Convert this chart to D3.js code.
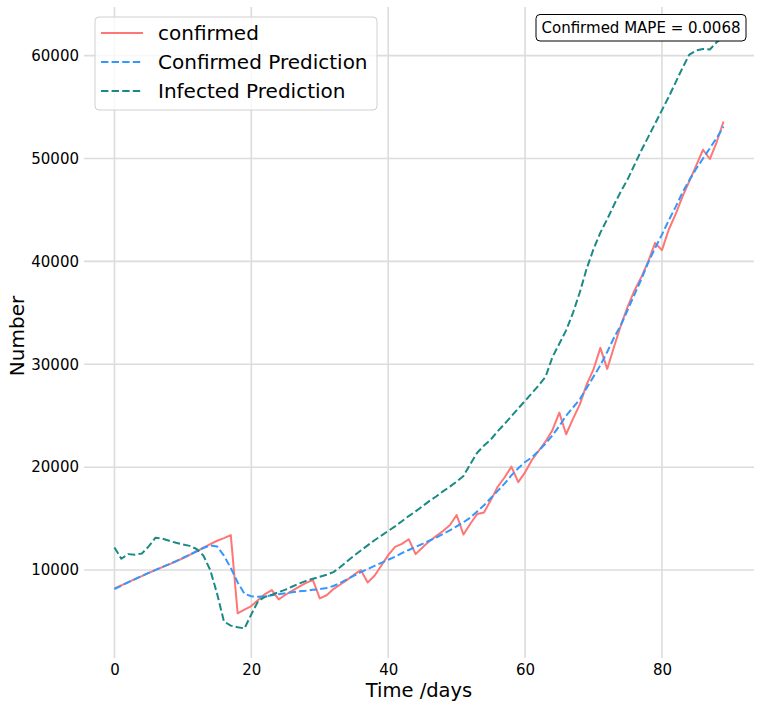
<!DOCTYPE html>
<html>
<head>
<meta charset="utf-8">
<script src="https://cdn.jsdelivr.net/npm/d3@7"></script>
<style>
    body { margin: 0; background: #fff; }
    svg text { font-family: 'DejaVu Sans', sans-serif; fill: #000; }
</style>
</head>
<body>
<svg id="chart" width="761" height="708"></svg>
<script>
// days 0..89
const days = d3.range(0, 90)

const confirmed = [
    8220, 8520, 8820, 9120, 9420, 9720, 10000, 10280, 10560, 10840,
    11150, 11480, 11820, 12170, 12530, 12850, 13100, 13400, 5800, 6150,
    6500, 7100, 7670, 8050, 7150, 7600, 8000, 8400, 8750, 9030,
    7250, 7550, 8150, 8600, 9050, 9550, 10000, 8800, 9450, 10450,
    11450, 12250, 12550, 13000, 11550, 12200, 12800, 13300, 13800, 14350,
    15350, 13450, 14500, 15450, 15600, 16800, 18100, 19000, 20050, 18550,
    19500, 20700, 21600, 22500, 23600, 25300, 23200, 24700, 26100, 28050,
    29500, 31600, 29550, 31700, 33800, 35600, 37200, 38500, 40000, 41800,
    41100, 43100, 44600, 46300, 47800, 49300, 50850, 49950, 51600, 53600
]

const confirmedPrediction = [
    8150, 8480, 8800, 9120, 9430, 9730, 10020, 10300, 10580, 10870,
    11180, 11500, 11830, 12150, 12400, 12300, 11400, 10200, 8800, 7700,
    7450, 7400, 7450, 7550, 7650, 7750, 7850, 7950, 8000, 8080,
    8150, 8250, 8450, 8750, 9100, 9450, 9800, 10100, 10400, 10700,
    11000, 11300, 11650, 11950, 12250, 12550, 12850, 13150, 13500, 13850,
    14250, 14650, 15100, 15700, 16300, 17000, 17700, 18400, 19200, 19900,
    20500, 20950, 21600, 22300, 23100, 24000, 25000, 25800, 26600, 27700,
    28800, 29900, 31200, 32600, 33800, 35300, 36800, 38300, 39900, 41300,
    42600, 44000, 45300, 46700, 47900, 49000, 50000, 51000, 52000, 53100
]

const infectedPrediction = [
    12200, 11100, 11550, 11500, 11600, 12300, 13150, 13050, 12850, 12650,
    12500, 12350, 12050, 11400, 10000, 7700, 5000, 4600, 4450, 4330,
    5700, 7000, 7400, 7600, 7850, 8100, 8400, 8700, 8950, 9150,
    9350, 9550, 9800, 10300, 10850, 11400, 11900, 12400, 12900, 13350,
    13800, 14250, 14750, 15250, 15700, 16200, 16700, 17150, 17650, 18100,
    18600, 19150, 20300, 21400, 22100, 22700, 23500, 24200, 24950, 25700,
    26450, 27200, 27950, 28800, 30700, 32000, 33300, 35000, 37000, 39300,
    41200, 42800, 44100, 45500, 46800, 48000, 49400, 50800, 52100, 53400,
    54700, 56000, 57400, 58800, 60100, 60500, 60650, 60600, 61300, 61850
]

const xTicks = [0, 20, 40, 60, 80]
const yTicks = [10000, 20000, 30000, 40000, 50000, 60000]
const mapeText = 'Confirmed MAPE = 0.0068'

const series = [
    {name: 'confirmed', values: confirmed, color: '#ff7676', dash: null},
    {name: 'Confirmed Prediction', values: confirmedPrediction, color: '#3397ff', dash: '7.4,3.2'},
    {name: 'Infected Prediction', values: infectedPrediction, color: '#1a8a86', dash: '7.4,3.2'}
]

const margin = {left: 84, right: 754, top: 7, bottom: 658}
const svg = d3.select('#chart')

// matplotlib style 5% margins around the data
function padded(extent) {
    const p = (extent[1] - extent[0]) * 0.05
    return [extent[0] - p, extent[1] + p]
}

const allValues = confirmed.concat(confirmedPrediction, infectedPrediction)

const x = d3.scaleLinear()
    .domain(padded(d3.extent(days)))
    .range([margin.left, margin.right])

const y = d3.scaleLinear()
    .domain(padded(d3.extent(allValues)))
    .range([margin.bottom, margin.top])

// grid
const grid = svg.append('g').attr('class', 'grid')
grid.selectAll('line.v')
    .data(xTicks)
    .enter()
        .append('line')
        .attr('x1', d => x(d)).attr('x2', d => x(d))
        .attr('y1', margin.top).attr('y2', margin.bottom)
        .attr('stroke', '#dcdcdc')
        .attr('stroke-width', 1.6)

grid.selectAll('line.h')
    .data(yTicks)
    .enter()
        .append('line')
        .attr('x1', margin.left).attr('x2', margin.right)
        .attr('y1', d => y(d)).attr('y2', d => y(d))
        .attr('stroke', '#dcdcdc')
        .attr('stroke-width', 1.6)

// axes, no spines and no tick marks
svg.append('g')
    .attr('transform', `translate(0,${margin.bottom})`)
    .call(d3.axisBottom(x).tickValues(xTicks).tickSize(0).tickPadding(6).tickFormat(d3.format('d')))
svg.append('g')
    .attr('transform', `translate(${margin.left},0)`)
    .call(d3.axisLeft(y).tickValues(yTicks).tickSize(0).tickPadding(5).tickFormat(d3.format('d')))

svg.selectAll('.domain').remove()
svg.selectAll('.tick text')
    .style('font-family', "'DejaVu Sans', sans-serif")
    .style('font-size', '15px')
    .attr('fill', '#000')

// lines
const line = d3.line()
    .x((d, i) => x(days[i]))
    .y(d => y(d))

svg.append('g')
    .selectAll('path')
    .data(series)
    .enter()
        .append('path')
        .attr('d', d => line(d.values))
        .attr('fill', 'none')
        .attr('stroke', d => d.color)
        .attr('stroke-width', 2)
        .attr('stroke-dasharray', d => d.dash)
        .attr('stroke-linejoin', 'round')

// axis labels
svg.append('text')
    .attr('x', (margin.left + margin.right) / 2)
    .attr('y', 697)
    .attr('text-anchor', 'middle')
    .style('font-size', '19.5px')
    .text('Time /days')

svg.append('text')
    .attr('transform', 'translate(24,336) rotate(-90)')
    .attr('text-anchor', 'middle')
    .style('font-size', '20px')
    .text('Number')

// legend
const legend = svg.append('g').attr('class', 'legend')
legend.append('rect')
    .attr('x', 95).attr('y', 17)
    .attr('width', 282).attr('height', 93)
    .attr('rx', 4)
    .attr('fill', '#fff')
    .attr('fill-opacity', 0.8)
    .attr('stroke', '#d0d0d0')
    .attr('stroke-width', 1)

const legendItems = legend.selectAll('g.item')
    .data(series)
    .enter()
        .append('g')
        .classed('item', true)
        .attr('transform', (d, i) => `translate(0,${33 + i * 29})`)

legendItems.append('line')
    .attr('x1', 101).attr('x2', 143)
    .attr('y1', 0).attr('y2', 0)
    .attr('stroke', d => d.color)
    .attr('stroke-width', 2)
    .attr('stroke-dasharray', d => d.dash)

legendItems.append('text')
    .attr('x', 158)
    .attr('y', 7)
    .style('font-size', '20px')
    .text(d => d.name)

// MAPE box
const mape = svg.append('g')
mape.append('rect')
    .attr('x', 536).attr('y', 14.5)
    .attr('width', 210).attr('height', 26.5)
    .attr('rx', 4)
    .attr('fill', '#fff')
    .attr('stroke', '#000')
    .attr('stroke-width', 1)
mape.append('text')
    .attr('x', 641)
    .attr('y', 33)
    .attr('text-anchor', 'middle')
    .style('font-size', '15px')
    .text(mapeText)
</script>
</body>
</html>
